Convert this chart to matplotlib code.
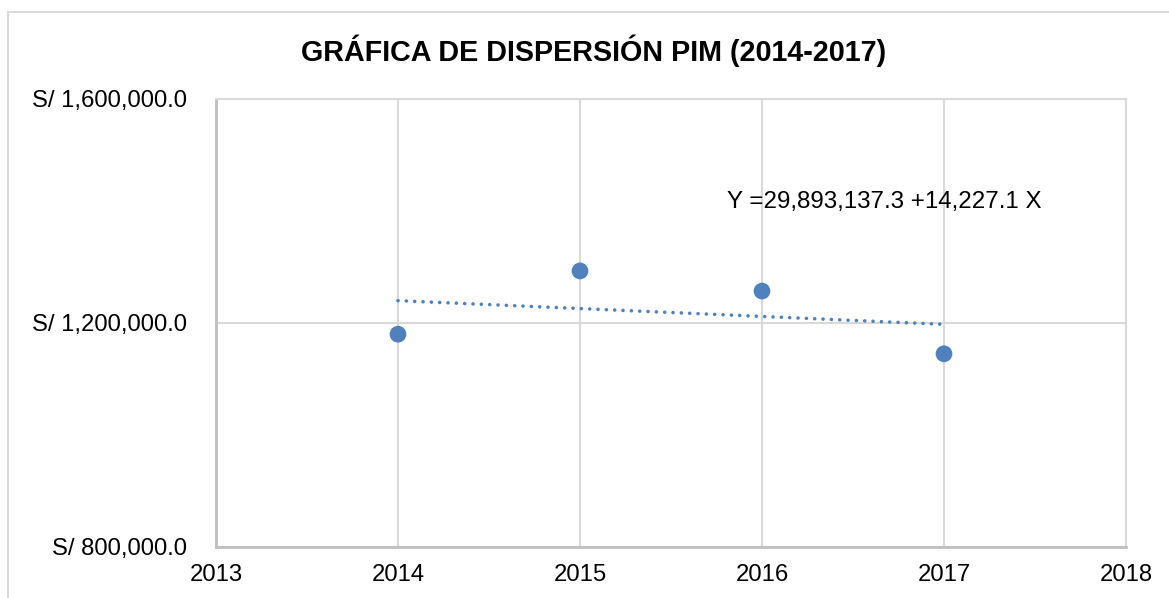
import matplotlib
matplotlib.use("Agg")
import matplotlib.pyplot as plt
from matplotlib.patches import Rectangle
from matplotlib.ticker import FuncFormatter
import numpy as np

plt.rcParams['font.family'] = ['Liberation Sans', 'DejaVu Sans']

years = [2014, 2015, 2016, 2017]
pim = [1180000, 1293000, 1257000, 1145000]
title = "GRÁFICA DE DISPERSIÓN PIM (2014-2017)"
equation = "Y =29,893,137.3 +14,227.1 X"
y_ticks = [800000, 1200000, 1600000]
x_ticks = [2013, 2014, 2015, 2016, 2017, 2018]

blue = "#4F81BD"
grid_c = "#d9d9d9"

fig = plt.figure(figsize=(11.69, 5.98), dpi=100)
ax = fig.add_axes([216 / 1169, 1 - 547 / 598, (1126 - 216) / 1169, (547 - 99) / 598])

# outer chart frame
fig.patches.append(Rectangle((8 / 1169, -0.1), 1.2, 1 - 12 / 598 + 0.1,
                             transform=fig.transFigure, fill=False,
                             edgecolor=grid_c, linewidth=1.5))

ax.scatter(years, pim, s=145, color=blue, zorder=3, edgecolors='none')

# linear trendline
coef = np.polyfit(years, pim, 1)
xs = np.array([years[0], years[-1]])
ax.plot(xs, np.polyval(coef, xs), color=blue, lw=2.6,
        linestyle=(0, (0.01, 2.3)), dash_capstyle='round', zorder=2)

ax.text(2015.81, 1416000, equation, fontsize=17.4, ha='left', va='center')

ax.set_xlim(2013, 2018)
ax.set_ylim(800000, 1600000)
ax.set_xticks(x_ticks)
ax.set_yticks(y_ticks)
ax.yaxis.set_major_formatter(FuncFormatter(lambda v, p: f"S/ {v:,.1f}"))
ax.tick_params(length=0, labelsize=17.2)
ax.tick_params(axis='y', pad=21)
ax.tick_params(axis='x', pad=12)
ax.grid(True, color=grid_c, lw=1.5, zorder=0)
ax.set_axisbelow(True)

for side in ['top', 'right']:
    ax.spines[side].set_color(grid_c)
    ax.spines[side].set_linewidth(1.5)
for side in ['left', 'bottom']:
    ax.spines[side].set_color("#bfbfbf")
    ax.spines[side].set_linewidth(2)

fig.text(594 / 1169, 1 - 51 / 598, title, fontsize=20.7, fontweight='bold',
         ha='center', va='center')

fig.savefig("out.png", dpi=100)
